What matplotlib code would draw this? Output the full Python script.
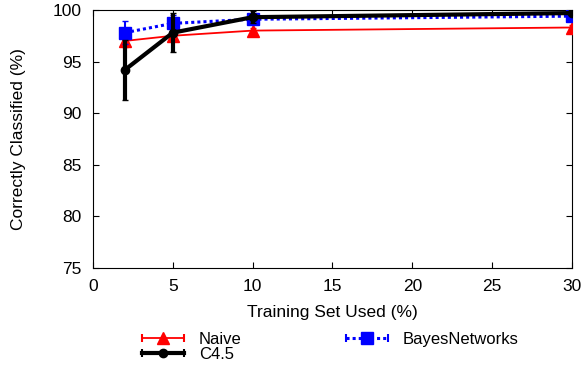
import matplotlib
matplotlib.use("Agg")
import matplotlib.pyplot as plt
from matplotlib.lines import Line2D
from matplotlib.legend_handler import HandlerLine2D, HandlerTuple

plt.rcParams.update({
    "font.family": ["Liberation Sans", "DejaVu Sans"],
    "font.size": 12.5,
    "xtick.direction": "in",
    "ytick.direction": "in",
    "xtick.top": True,
    "ytick.right": True,
})

# ── Data ────────────────────────────────────────────────────────────────
train_pct = [2, 5, 10, 30]

naive = [97.0, 97.5, 98.0, 98.3]
naive_err = [0.6, 0.4, 0.3, 0.2]

c45 = [94.2, 97.8, 99.3, 99.7]
c45_err = [2.9, 1.9, 0.6, 0.2]

bayes = [97.8, 98.7, 99.1, 99.4]
bayes_err = [1.1, 0.8, 0.4, 0.3]

series = [
    ("Naive", naive, naive_err, dict(color="#ff0000", lw=1.3, ls="-", marker="^", ms=9, elw=1.3, z=3)),
    ("BayesNetworks", bayes, bayes_err, dict(color="#0000ff", lw=2.2, ls=(0, (1, 1)), marker="s", ms=8, elw=1.5, z=4)),
    ("C4.5", c45, c45_err, dict(color="black", lw=3, ls="-", marker="o", ms=6, elw=3, z=5)),
]

fig = plt.figure(figsize=(5.86, 3.66), dpi=100)
ax = fig.add_axes([0.1587, 0.2678, 0.8174, 0.705])

handles = {}
hmap = {}
for name, vals, err, st in series:
    ax.errorbar(train_pct, vals, yerr=err, color=st["color"], lw=st["lw"], ls=st["ls"],
                marker=st["marker"], ms=st["ms"], capsize=2, elinewidth=st["elw"],
                zorder=st["z"])
    # gnuplot-style key: line with end caps plus a single marker
    cap = Line2D([], [], color=st["color"], lw=st["lw"], ls=st["ls"],
                 marker="|", ms=6, mew=1.5)
    mk = Line2D([], [], color=st["color"], ls="none", marker=st["marker"], ms=st["ms"])
    hmap[cap] = HandlerLine2D(numpoints=2)
    hmap[mk] = HandlerLine2D(numpoints=1)
    handles[name] = (cap, mk)

hmap[tuple] = HandlerTuple(ndivide=1, pad=0)

ax.set_xlim(0, 30)
ax.set_ylim(75, 100)
ax.set_xticks(range(0, 31, 5))
ax.set_yticks(range(75, 101, 5))
ax.set_xlabel("Training Set Used (%)", labelpad=8)
ax.set_ylabel("Correctly Classified (%)", labelpad=19)
ax.tick_params(length=4, pad=8)

order = ["Naive", "C4.5", "BayesNetworks"]
fig.legend([handles[n] for n in order], order, ncol=2,
           handler_map=hmap, fontsize=12,
           loc="upper left", bbox_to_anchor=(137 / 586, 1 - 332 / 366), frameon=False,
           borderpad=0, borderaxespad=0,
           handlelength=3.1, labelspacing=0.0, columnspacing=6.0, handletextpad=0.6)

fig.savefig("out.png", dpi=100)
